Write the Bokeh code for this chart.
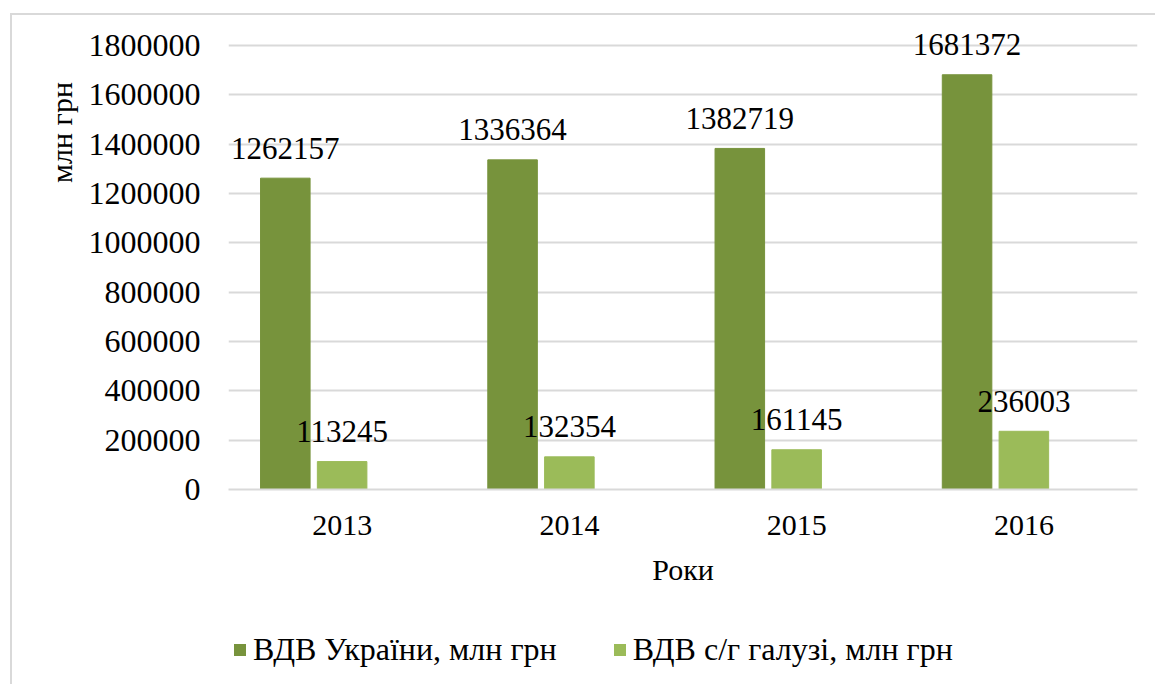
from bokeh.plotting import figure
from bokeh.models import (ColumnDataSource, FactorRange, FixedTicker, BasicTickFormatter,
                          Legend, LegendItem, Label, Range1d)
from bokeh.layouts import row, column
from bokeh.transform import dodge
from bokeh.core.properties import value
from bokeh.embed import file_html
from bokeh.resources import INLINE

years = ["2013", "2014", "2015", "2016"]
vdv_ukraine = [1262157, 1336364, 1382719, 1681372]
vdv_agri = [113245, 132354, 161145, 236003]
y_ticks = [0, 200000, 400000, 600000, 800000, 1000000, 1200000, 1400000, 1600000, 1800000]

series_names = ["ВДВ України, млн грн", "ВДВ с/г галузі, млн грн"]
x_title = "Роки"
y_title = "млн грн"

FONT = "Liberation Serif"
DARK = "#77933C"
LIGHT = "#9BBB59"
GRID = "#d9d9d9"

src = ColumnDataSource(dict(
    years=years,
    ua=vdv_ukraine,
    agri=vdv_agri,
    ua_txt=[str(v) for v in vdv_ukraine],
    agri_txt=[str(v) for v in vdv_agri],
))

TOTAL_W, TOTAL_H = 1143, 669
TITLE_W = 73
MAIN_H = 600
LEG_H = TOTAL_H - MAIN_H
AXIS_TOP = 30          # where the 1 800 000 gridline sits (px from top)
FRAME_BOTTOM = 474     # where the zero line sits
Y_MAX = y_ticks[-1]
# frame extends to the top edge so that the top value label is not clipped
y_end = Y_MAX * FRAME_BOTTOM / (FRAME_BOTTOM - AXIS_TOP)


def blank(fig):
    fig.outline_line_color = None
    fig.background_fill_color = "white"
    fig.border_fill_color = "white"
    fig.axis.visible = False
    fig.grid.visible = False


# ---- y-title strip (its frame is aligned with the main frame) -----------
pt = figure(width=TITLE_W, height=MAIN_H, x_range=Range1d(0, 1), y_range=Range1d(0, 1),
            output_backend="svg", toolbar_location=None,
            min_border=0, min_border_left=0, min_border_right=0, min_border_top=0, min_border_bottom=0)
blank(pt)
pt.add_layout(Label(x=49, y=FRAME_BOTTOM - 117, x_units="screen", y_units="screen", text=y_title,
                    angle=1.5707963, text_align="center", text_baseline="middle",
                    text_font=FONT, text_font_size="30px", text_color="#000000"))

# ---- main chart ----------------------------------------------------------
p = figure(x_range=FactorRange(*years, range_padding=0), y_range=Range1d(0, y_end),
           width=TOTAL_W - TITLE_W, height=MAIN_H, output_backend="svg", toolbar_location=None,
           min_border_left=130, min_border_right=18, min_border_top=0,
           min_border_bottom=MAIN_H - FRAME_BOTTOM)
p.outline_line_color = None
p.background_fill_color = "white"
p.border_fill_color = "white"

p.vbar(x=dodge("years", -0.25, range=p.x_range), top="ua", width=0.218, bottom=0,
       source=src, fill_color=DARK, line_color=DARK)
p.vbar(x=dodge("years", 0.0, range=p.x_range), top="agri", width=0.218, bottom=0,
       source=src, fill_color=LIGHT, line_color=LIGHT)

p.text(x=dodge("years", -0.25, range=p.x_range), y="ua", text="ua_txt", source=src,
       text_font=value(FONT), text_font_size="31px", text_color="#000000",
       text_align="center", text_baseline="middle", y_offset=-30)
p.text(x=dodge("years", 0.0, range=p.x_range), y="agri", text="agri_txt", source=src,
       text_font=value(FONT), text_font_size="31px", text_color="#000000",
       text_align="center", text_baseline="middle", y_offset=-30)

p.yaxis.ticker = FixedTicker(ticks=y_ticks)
p.yaxis.formatter = BasicTickFormatter(use_scientific=False)
p.yaxis.axis_line_color = None
p.yaxis.major_tick_line_color = None
p.yaxis.minor_tick_line_color = None
p.yaxis.major_tick_out = 0
p.yaxis.major_tick_in = 0
p.yaxis.major_label_standoff = 28
p.yaxis.major_label_text_font = FONT
p.yaxis.major_label_text_font_size = "32px"
p.yaxis.major_label_text_color = "#000000"

p.xaxis.axis_line_color = GRID
p.xaxis.axis_line_width = 2
p.xaxis.major_tick_line_color = None
p.xaxis.minor_tick_line_color = None
p.xaxis.major_tick_out = 0
p.xaxis.major_tick_in = 0
p.xaxis.major_label_standoff = 26
p.xaxis.major_label_text_font = FONT
p.xaxis.major_label_text_font_size = "30px"
p.xaxis.major_label_text_color = "#000000"
p.xaxis.axis_label = x_title
p.xaxis.axis_label_text_font = FONT
p.xaxis.axis_label_text_font_size = "30px"
p.xaxis.axis_label_text_font_style = "normal"
p.xaxis.axis_label_text_color = "#000000"
p.xaxis.axis_label_standoff = 15

p.xgrid.grid_line_color = None
p.ygrid.grid_line_color = GRID
p.ygrid.grid_line_width = 2

# ---- legend strip --------------------------------------------------------
pl = figure(width=TOTAL_W, height=LEG_H, x_range=Range1d(0, 1), y_range=Range1d(0, 1),
            output_backend="svg", toolbar_location=None,
            min_border=0, min_border_left=0, min_border_right=0, min_border_top=0, min_border_bottom=0)
blank(pl)
# legend-only renderers: zero-size bars, nothing visible is drawn
l1 = pl.vbar(x=[0.5], top=[0], bottom=[0], width=0, fill_color=DARK, line_color=None)
l2 = pl.vbar(x=[0.5], top=[0], bottom=[0], width=0, fill_color=LIGHT, line_color=None)
legend = Legend(items=[LegendItem(label=series_names[0], renderers=[l1]),
                       LegendItem(label=series_names[1], renderers=[l2])],
                orientation="horizontal", location=(220, 16),
                padding=0, margin=0, spacing=55, label_standoff=6,
                glyph_width=15, glyph_height=15,
                label_text_font=FONT, label_text_font_size="32px", label_text_color="#000000",
                border_line_color=None, background_fill_alpha=0)
pl.add_layout(legend, "center")

layout = column(row(pt, p), pl)
layout.styles = {"border-left": "2px solid #d9d9d9", "border-top": "2px solid #d9d9d9",
                 "margin-left": "10px", "margin-top": "13px"}

open("out.html", "w").write(file_html(layout, INLINE))
